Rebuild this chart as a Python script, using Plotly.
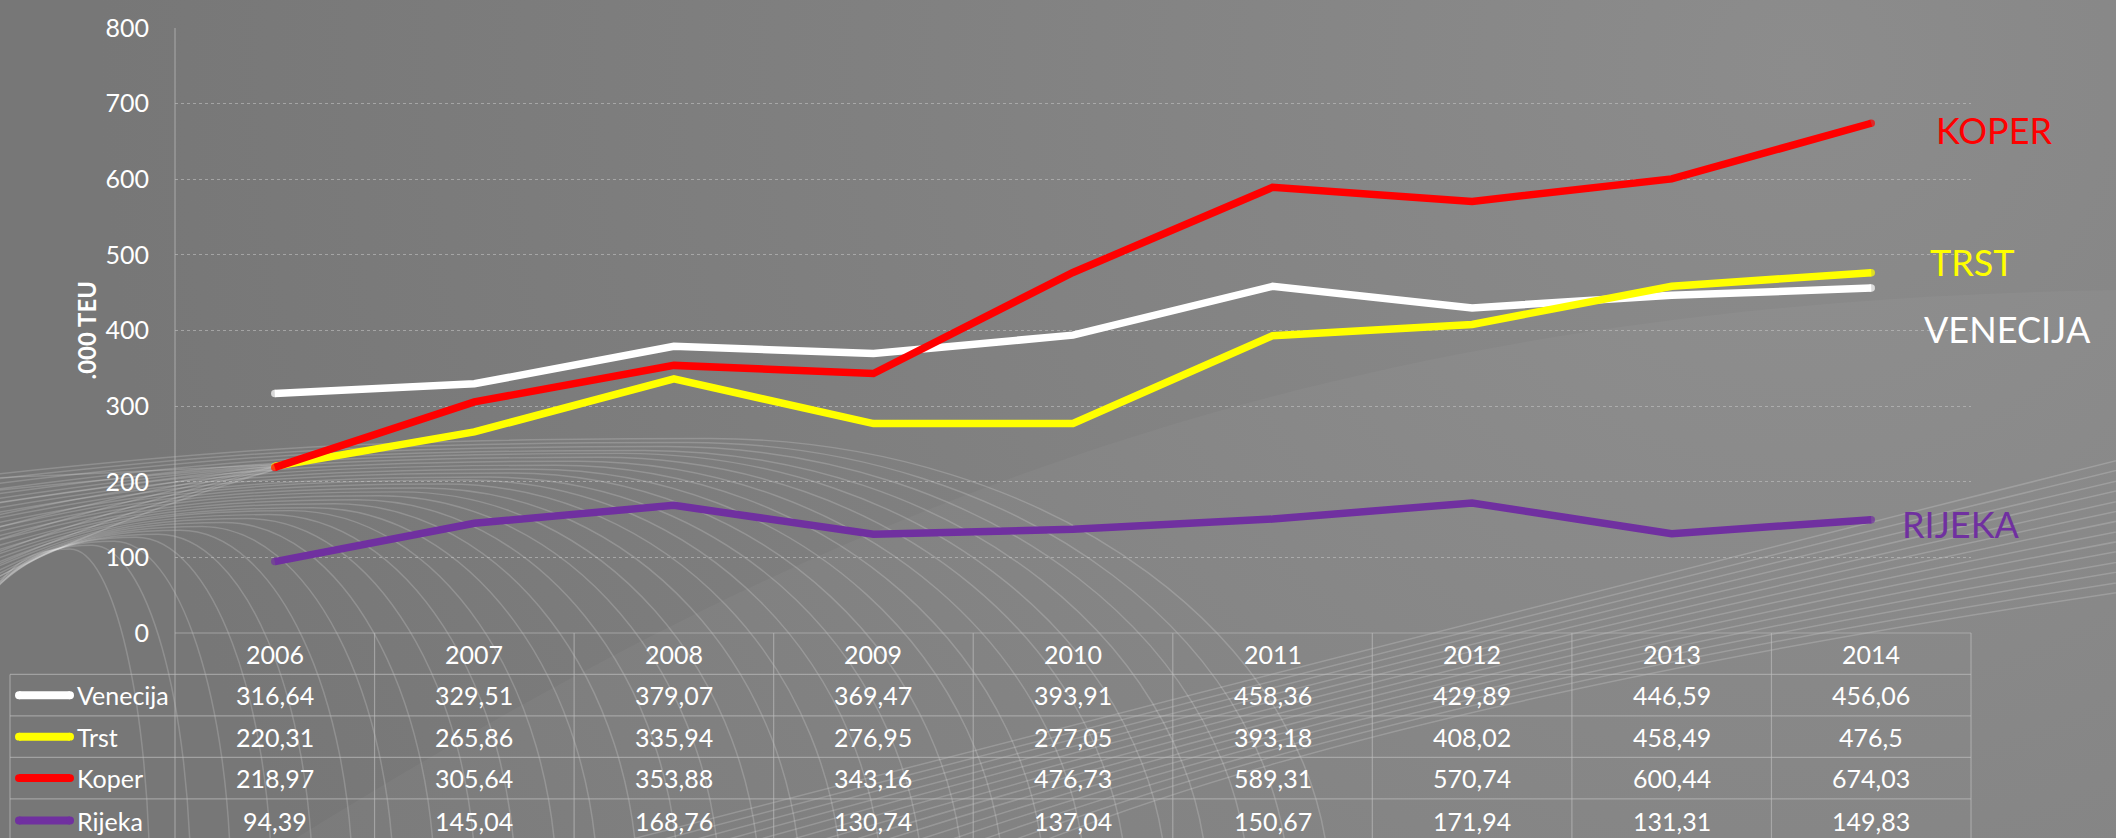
import base64
import plotly.graph_objects as go

# ---------------- data ----------------
years = ["2006", "2007", "2008", "2009", "2010", "2011", "2012", "2013", "2014"]
venecija = [316.64, 329.51, 379.07, 369.47, 393.91, 458.36, 429.89, 446.59, 456.06]
trst = [220.31, 265.86, 335.94, 276.95, 277.05, 393.18, 408.02, 458.49, 476.5]
koper = [218.97, 305.64, 353.88, 343.16, 476.73, 589.31, 570.74, 600.44, 674.03]
rijeka = [94.39, 145.04, 168.76, 130.74, 137.04, 150.67, 171.94, 131.31, 149.83]

series_names = ["Venecija", "Trst", "Koper", "Rijeka"]
series_values = [venecija, trst, koper, rijeka]
end_labels = ["VENECIJA", "TRST", "KOPER", "RIJEKA"]
y_ticks = [0, 100, 200, 300, 400, 500, 600, 700, 800]
y_title = ".000 TEU"

# ---------------- styles / layout geometry ----------------
colors = ["#FFFFFF", "#FFFF00", "#FF0000", "#7030A0"]
FONT = "Lato"
W, H = 2116, 838
L, R_EDGE, T, B_EDGE = 175, 1971, 20, 633
PW, PH = R_EDGE - L, B_EDGE - T
LW = 7.5
GRID = "rgba(200,200,200,0.55)"
TABLE_LINE = "rgba(190,190,190,0.6)"
row_edges = [633, 675, 717, 759, 801, 845]
legend_left = 10
end_label_pos = {"VENECIJA": (2007, 325), "TRST": (1972, 257), "KOPER": (1994, 123), "RIJEKA": (1960, 523)}
PADBG = 30  # background image bleed


def px(xp):
    return (xp - L) / PW


def py(yp):
    return 1 - (yp - T) / PH


# ---------------- decorative background (svg) ----------------
paths = []
K = 0.5523
N = 30
for i in range(N):
    t = i / (N - 1)
    xs, ys = -30, 625 - 150 * t
    xp_, yp_ = 70 + 640 * t, 548 - 112 * t
    xe, ye = xp_ + 80 + 540 * t, 900
    d = (f"M{xs:.0f},{ys:.0f} "
         f"C{xs + 0.35 * (xp_ - xs):.0f},{ys - 0.75 * (ys - yp_):.0f} {xp_ - 0.45 * (xp_ - xs):.0f},{yp_:.0f} {xp_:.0f},{yp_:.0f} "
         f"C{xp_ + K * (xe - xp_):.0f},{yp_:.0f} {xe:.0f},{ye - K * (ye - yp_):.0f} {xe:.0f},{ye}")
    paths.append(f'<path d="{d}" />')
# left converging mesh
for k in range(9):
    paths.append(f'<path d="M280,{462 + 0.5 * k:.0f} Q130,{470 + 5 * k} -10,{476 + 13 * k}" />')
# bottom right bundle
for j in range(14):
    s = j / 13
    paths.append(f'<path d="M{620 + 420 * s:.0f},{845} Q{1400:.0f},{640 + 60 * s:.0f} 2130,{455 + 135 * s:.0f}" />')

svg = f'''<svg xmlns="http://www.w3.org/2000/svg" width="{W + 2 * PADBG}" height="{H + 2 * PADBG}" viewBox="{-PADBG} {-PADBG} {W + 2 * PADBG} {H + 2 * PADBG}">
<defs>
<radialGradient id="g" cx="1800" cy="60" r="1700" gradientUnits="userSpaceOnUse">
<stop offset="0" stop-color="#8c8c8c"/><stop offset="0.55" stop-color="#808080"/><stop offset="1" stop-color="#777777"/>
</radialGradient>
</defs>
<rect x="{-PADBG}" y="{-PADBG}" width="{W + 2 * PADBG}" height="{H + 2 * PADBG}" fill="url(#g)"/>
<path d="M250,870 C800,520 1300,292 2150,285 L2150,870 Z" fill="#ffffff" fill-opacity="0.035"/>
<g fill="none" stroke="#ffffff" stroke-opacity="0.18" stroke-width="1.5">
{''.join(paths)}
</g>
</svg>'''
bg_uri = "data:image/svg+xml;base64," + base64.b64encode(svg.encode()).decode()

# ---------------- figure ----------------
fig = go.Figure()
for name, vals, col in zip(series_names, series_values, colors):
    sizes = [LW] + [0] * (len(vals) - 2) + [LW]
    fig.add_trace(go.Scatter(
        x=years, y=vals, name=name, mode="lines+markers",
        line=dict(color=col, width=LW),
        marker=dict(color=col, size=sizes, line=dict(width=0)),
        showlegend=False, hoverinfo="skip",
    ))

shapes = []
annotations = []

# y axis line (continues through table)
shapes.append(dict(type="line", xref="paper", yref="paper", x0=0, x1=0, y0=py(T), y1=py(row_edges[-1]),
                   line=dict(color=TABLE_LINE, width=1.2)))
# table horizontal lines
shapes.append(dict(type="line", xref="paper", yref="paper", x0=0, x1=1, y0=py(row_edges[0]), y1=py(row_edges[0]),
                   line=dict(color=TABLE_LINE, width=1.2)))
for ye in row_edges[1:]:
    shapes.append(dict(type="line", xref="paper", yref="paper", x0=px(legend_left), x1=1, y0=py(ye), y1=py(ye),
                       line=dict(color=TABLE_LINE, width=1.2)))
# table vertical lines
n = len(years)
for i in range(1, n + 1):
    shapes.append(dict(type="line", xref="paper", yref="paper", x0=i / n, x1=i / n,
                       y0=py(row_edges[0]), y1=py(row_edges[-1]), line=dict(color=TABLE_LINE, width=1.2)))
shapes.append(dict(type="line", xref="paper", yref="paper", x0=px(legend_left), x1=px(legend_left),
                   y0=py(row_edges[1]), y1=py(row_edges[-1]), line=dict(color=TABLE_LINE, width=1.2)))

# header
for i, yr in enumerate(years):
    annotations.append(dict(xref="paper", yref="paper", x=(i + 0.5) / n, y=py((row_edges[0] + row_edges[1]) / 2),
                            text=yr, showarrow=False, font=dict(family=FONT, size=25, color="white"),
                            xanchor="center", yanchor="middle"))
# rows
for r, (name, vals, col) in enumerate(zip(series_names, series_values, colors)):
    yc = (row_edges[r + 1] + row_edges[r + 2]) / 2
    shapes.append(dict(type="line", xref="paper", yref="paper", x0=px(19), x1=px(70), y0=py(yc), y1=py(yc),
                       line=dict(color=col, width=8)))
    for xe in (19, 70):
        shapes.append(dict(type="circle", xref="paper", yref="paper", x0=px(xe - 4), x1=px(xe + 4),
                           y0=py(yc + 4), y1=py(yc - 4), fillcolor=col, line=dict(width=0)))
    annotations.append(dict(xref="paper", yref="paper", x=px(75), y=py(yc), text=name, showarrow=False,
                            font=dict(family=FONT, size=25, color="white"), xanchor="left", yanchor="middle"))
    for i, v in enumerate(vals):
        annotations.append(dict(xref="paper", yref="paper", x=(i + 0.5) / n, y=py(yc),
                                text=str(v).replace(".", ","), showarrow=False,
                                font=dict(family=FONT, size=25, color="white"),
                                xanchor="center", yanchor="middle"))

# end labels
for lab, col in zip(end_labels, colors):
    xx, yy = end_label_pos[lab]
    annotations.append(dict(xref="paper", yref="paper", x=px(xx), y=py(yy), text=lab, showarrow=False,
                            font=dict(family=FONT, size=36, color=col), xanchor="center", yanchor="middle"))

# y title
annotations.append(dict(xref="paper", yref="paper", x=px(86), y=0.5, text=f"<b>{y_title}</b>", showarrow=False,
                        textangle=-90, font=dict(family=FONT, size=24, color="white"),
                        xanchor="center", yanchor="middle"))

fig.update_layout(
    width=W, height=H,
    margin=dict(l=L, r=W - R_EDGE, t=T, b=H - B_EDGE, pad=0),
    paper_bgcolor="#7a7a7a",
    plot_bgcolor="rgba(0,0,0,0)",
    font=dict(family=FONT, color="white"),
    shapes=shapes,
    annotations=annotations,
    images=[dict(source=bg_uri, xref="paper", yref="paper", x=(-L - PADBG) / PW, y=1 + (T + PADBG) / PH,
                 sizex=(W + 2 * PADBG) / PW, sizey=(H + 2 * PADBG) / PH, xanchor="left", yanchor="top",
                 sizing="stretch", layer="below")],
    xaxis=dict(type="category", range=[-0.5, len(years) - 0.5], showgrid=False, zeroline=False,
               showline=False, showticklabels=False, ticks=""),
    yaxis=dict(range=[0, 800], tickvals=y_ticks, showgrid=True, gridcolor=GRID, griddash="dot",
               gridwidth=1, zeroline=False, showline=False, ticks="outside", ticklen=20,
               tickcolor="rgba(0,0,0,0)", tickfont=dict(family=FONT, size=25, color="white")),
)

fig.write_html("out.html", config={"displayModeBar": False},
               post_script="document.body.style.margin='0';document.body.style.overflow='hidden';")
